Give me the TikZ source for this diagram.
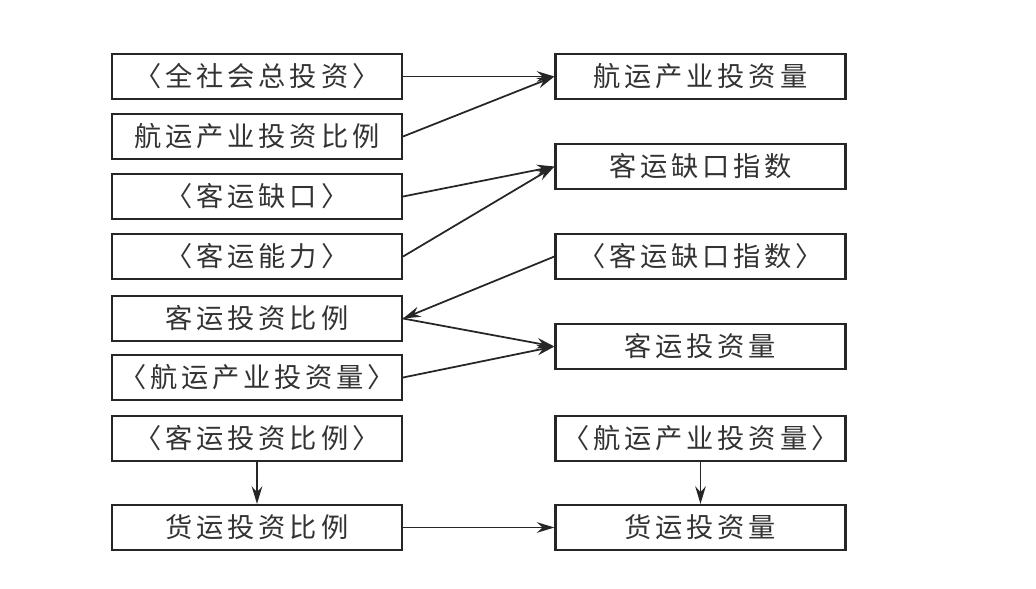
\documentclass[tikz,border=0pt]{standalone}
\usepackage{fontspec}
\setmainfont{Noto Sans CJK SC}[LetterSpace=14]
\usepackage{tikz}
\usetikzlibrary{positioning}
\usetikzlibrary{arrows.meta}
\tikzset{
    mybox/.style = {rectangle, line width=1.2pt, draw=black!85, minimum width=5.8cm, minimum height=0.9cm, inner sep=0pt, font=\fontsize{15.5pt}{17pt}\selectfont, text=black!80},
    edgen/.style = {-{Stealth[length=10pt,width=6pt]}, line width=1pt, draw=black!85}
}
\begin{document}
\begin{tikzpicture}
  \useasboundingbox (0,0) rectangle (20.72,-11.78);
  % left column
  \node[mybox] (ztz)  at (5.14,-1.53)  {〈全社会总投资〉};
  \node[mybox] (hybl) at (5.14,-2.73)  {航运产业投资比例};
  \node[mybox] (kyqk) at (5.14,-3.93)  {〈客运缺口〉};
  \node[mybox] (kynl) at (5.14,-5.13)  {〈客运能力〉};
  \node[mybox] (kybl) at (5.14,-6.37)  {客运投资比例};
  \node[mybox] (hyl)  at (5.14,-7.55)  {〈航运产业投资量〉};
  \node[mybox] (kyb2) at (5.14,-8.77)  {〈客运投资比例〉};
  \node[mybox] (hbl)  at (5.14,-10.55) {货运投资比例};
  % right column
  \node[mybox] (hytz) at (14.01,-1.53)  {航运产业投资量};
  \node[mybox] (qkzs) at (14.01,-3.33)  {客运缺口指数};
  \node[mybox] (qkz2) at (14.01,-5.13)  {〈客运缺口指数〉};
  \node[mybox] (kytz) at (14.01,-6.93)  {客运投资量};
  \node[mybox] (hyl2) at (14.01,-8.77)  {〈航运产业投资量〉};
  \node[mybox] (hytl) at (14.01,-10.55) {货运投资量};
  % connectors
  \draw[edgen] (ztz.east) -- (hytz.west);
  \draw[edgen] (hybl.east) -- (hytz.west);
  \draw[edgen] (kyqk.east) -- (qkzs.west);
  \draw[edgen] (kynl.east) -- (qkzs.west);
  \draw[edgen] (qkz2.west) -- (kybl.east);
  \draw[edgen] (kybl.east) -- (kytz.west);
  \draw[edgen] (hyl.east) -- (kytz.west);
  \draw[edgen] (kyb2.south) -- (hbl.north);
  \draw[edgen] (hyl2.south) -- (hytl.north);
  \draw[edgen] (hbl.east) -- (hytl.west);
\end{tikzpicture}
\end{document}
